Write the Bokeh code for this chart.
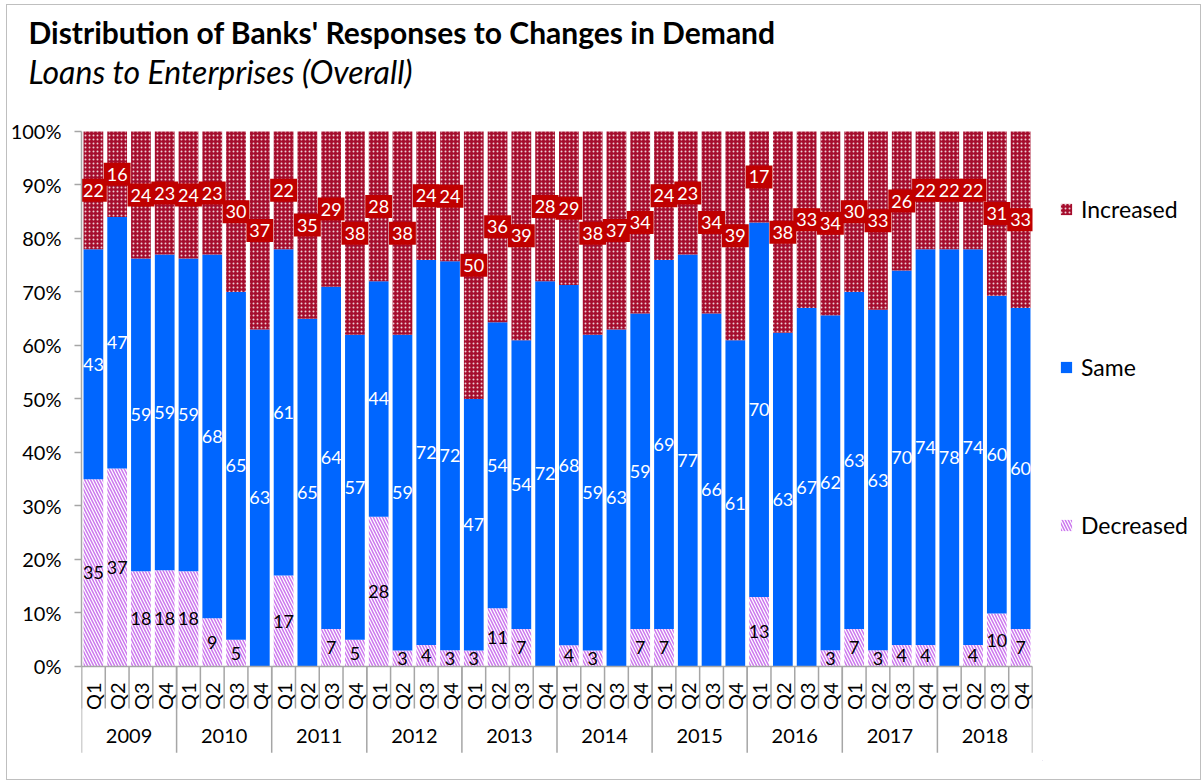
import math
import numpy as np
from bokeh.plotting import figure
from bokeh.layouts import row
from bokeh.models import (FactorRange, Range1d, ColumnDataSource, LinearAxis, CategoricalAxis,
                          FixedTicker, NumeralTickFormatter, Legend, LegendItem, Title)
from bokeh.core.properties import value
from bokeh.embed import file_html
from bokeh.resources import INLINE

years = ["2009", "2010", "2011", "2012", "2013", "2014", "2015", "2016", "2017", "2018"]
quarters = ["Q1", "Q2", "Q3", "Q4"]

decreased = [35, 37, 18, 18, 18, 9, 5, 0, 17, 0, 7, 5, 28, 3, 4, 3, 3, 11, 7, 0,
             4, 3, 0, 7, 7, 0, 0, 0, 13, 0, 0, 3, 7, 3, 4, 4, 0, 4, 10, 7]
same = [43, 47, 59, 59, 59, 68, 65, 63, 61, 65, 64, 57, 44, 59, 72, 72, 47, 54, 54, 72,
        68, 59, 63, 59, 69, 77, 66, 61, 70, 63, 67, 62, 63, 63, 70, 74, 78, 74, 60, 60]
increased = [22, 16, 24, 23, 24, 23, 30, 37, 22, 35, 29, 38, 28, 38, 24, 24, 50, 36, 39, 28,
             29, 38, 37, 34, 24, 23, 34, 39, 17, 38, 33, 34, 30, 33, 26, 22, 22, 22, 31, 33]

y_ticks = [i / 10 for i in range(11)]

FONT = "Lato"
BLUE = "#0066FF"
RED = "#A50D2D"
BOX = "#C00000"
GRAY = "#A6A6A6"
H = 774

DEC_STYLE = dict(fill_color="white", line_color=None, hatch_pattern="left_diagonal_line",
                 hatch_color="#CC77EE", hatch_scale=6, hatch_weight=1.5)
SAME_STYLE = dict(fill_color=BLUE, line_color=None)
INC_STYLE = dict(fill_color=RED, line_color=None, hatch_pattern="dot", hatch_color="white",
                 hatch_scale=4, hatch_weight=1, hatch_alpha=0.8)

factors = [(y, q) for y in years for q in quarters]
n = len(factors)
dec = np.array(decreased, float)
sam = np.array(same, float)
inc = np.array(increased, float)
tot = dec + sam + inc
dec_top = dec / tot
same_top = dec_top + sam / tot

src = ColumnDataSource(dict(
    x=factors,
    zero=np.zeros(n), dec_top=dec_top, same_top=same_top, one=np.ones(n),
    dec_mid=dec_top / 2, same_mid=(dec_top + same_top) / 2, inc_mid=(same_top + 1) / 2,
    dec_lbl=[str(v) if v else "" for v in decreased],
    same_lbl=[str(v) if v else "" for v in same],
    inc_lbl=[str(v) if v else "" for v in increased],
))

p = figure(width=1035, height=H,
           x_range=FactorRange(*factors, factor_padding=0, group_padding=0, range_padding=0),
           y_range=Range1d(-0.1757, 1.0766),
           output_backend="svg", toolbar_location=None,
           x_axis_location=None, y_axis_location=None,
           min_border_left=73, min_border_right=10, min_border_bottom=19, min_border_top=85)
p.title = None
p.outline_line_color = None
p.xgrid.visible = False
p.ygrid.visible = False
p.background_fill_color = "white"
p.border_fill_color = "white"

# titles
t_sub = Title(text="Loans to Enterprises (Overall)", text_font=FONT, text_font_size="32px",
              text_font_style="italic", align="left", offset=-53, standoff=0, text_color="black")
t_main = Title(text="Distribution of Banks' Responses to Changes in Demand", text_font=FONT,
               text_font_size="30px", text_font_style="bold", align="left", offset=-53,
               standoff=0, text_color="black")
p.add_layout(t_sub, "above")
p.add_layout(t_main, "above")

# bars
w = 0.83
p.vbar(x="x", bottom="zero", top="dec_top", width=w, source=src, **DEC_STYLE)
p.vbar(x="x", bottom="dec_top", top="same_top", width=w, source=src, **SAME_STYLE)
p.vbar(x="x", bottom="same_top", top="one", width=w, source=src, **INC_STYLE)

# category separators
qsep = list(range(n + 1))
p.segment(x0=qsep, x1=qsep, y0=[0] * len(qsep), y1=[-0.0785] * len(qsep),
          line_color=GRAY, line_width=1.5)
ysep = list(range(0, n + 1, len(quarters)))
p.segment(x0=ysep, x1=ysep, y0=[0] * len(ysep), y1=[-0.161] * len(ysep),
          line_color=GRAY, line_width=1.5)

# labels
p.text(x="x", y="dec_mid", text="dec_lbl", source=src, text_align="center",
       text_baseline="middle", text_color="black", text_font=value(FONT), text_font_size="18px")
p.text(x="x", y="same_mid", text="same_lbl", source=src, text_align="center",
       text_baseline="middle", text_color="white", text_font=value(FONT), text_font_size="18px")
p.text(x="x", y="inc_mid", text="inc_lbl", source=src, text_align="center",
       text_baseline="middle", text_color="white", text_font=value(FONT), text_font_size="18px",
       background_fill_color=BOX, padding=(3, 5))

# axes
yaxis = LinearAxis(ticker=FixedTicker(ticks=y_ticks), formatter=NumeralTickFormatter(format="0%"),
                   bounds=(0, 1), axis_line_color=GRAY, axis_line_width=1.5,
                   major_tick_line_color=GRAY, major_tick_line_width=1.5,
                   major_tick_out=7, major_tick_in=0, minor_tick_line_color=None,
                   major_label_standoff=13, major_label_text_font=FONT,
                   major_label_text_font_size="20px", major_label_text_color="black")
p.add_layout(yaxis, "left")

xaxis = CategoricalAxis(fixed_location=0, axis_line_color=GRAY, axis_line_width=1.5,
                        major_tick_line_color=None, major_tick_out=0, major_tick_in=0,
                        minor_tick_line_color=None, separator_line_color=None,
                        major_label_orientation=math.pi / 2, major_label_standoff=16,
                        major_label_text_font=FONT, major_label_text_font_size="20px",
                        major_label_text_color="black",
                        group_text_font=FONT, group_text_font_size="20px",
                        group_text_font_style="normal", group_text_color="black")
p.add_layout(xaxis, "below")

# legend panel (separate figure to the right of the plot area); the key glyphs
# use proxy renderers whose single bar lies outside the visible range
lg = figure(width=158, height=H, x_range=Range1d(0, 1), y_range=Range1d(0, 1),
            output_backend="svg", toolbar_location=None,
            x_axis_location=None, y_axis_location=None,
            min_border_left=0, min_border_right=0, min_border_top=0, min_border_bottom=0)
lg.title = None
lg.outline_line_color = None
lg.xgrid.visible = False
lg.ygrid.visible = False
lg.border_fill_color = "white"
proxy = dict(x=[-10.0], top=[-10.0])
k_inc = lg.vbar(x="x", top="top", width=0.5, source=ColumnDataSource(proxy), **INC_STYLE)
k_same = lg.vbar(x="x", top="top", width=0.5, source=ColumnDataSource(proxy), **SAME_STYLE)
k_dec = lg.vbar(x="x", top="top", width=0.5, source=ColumnDataSource(proxy), **DEC_STYLE)

legend = Legend(items=[LegendItem(label="Increased", renderers=[k_inc]),
                       LegendItem(label="Same", renderers=[k_same]),
                       LegendItem(label="Decreased", renderers=[k_dec])],
                location=(17, 221), orientation="vertical", spacing=130,
                glyph_width=14, glyph_height=14, label_height=28, label_standoff=8,
                padding=0, margin=0, border_line_color=None, background_fill_alpha=0,
                label_text_font=FONT, label_text_font_size="23px", label_text_color="black")
lg.add_layout(legend, "center")

page = row(p, lg, styles={"border": "1px solid #BFBFBF", "margin-left": "6px", "margin-top": "4px"})

open("out.html", "w").write(file_html(page, INLINE))
